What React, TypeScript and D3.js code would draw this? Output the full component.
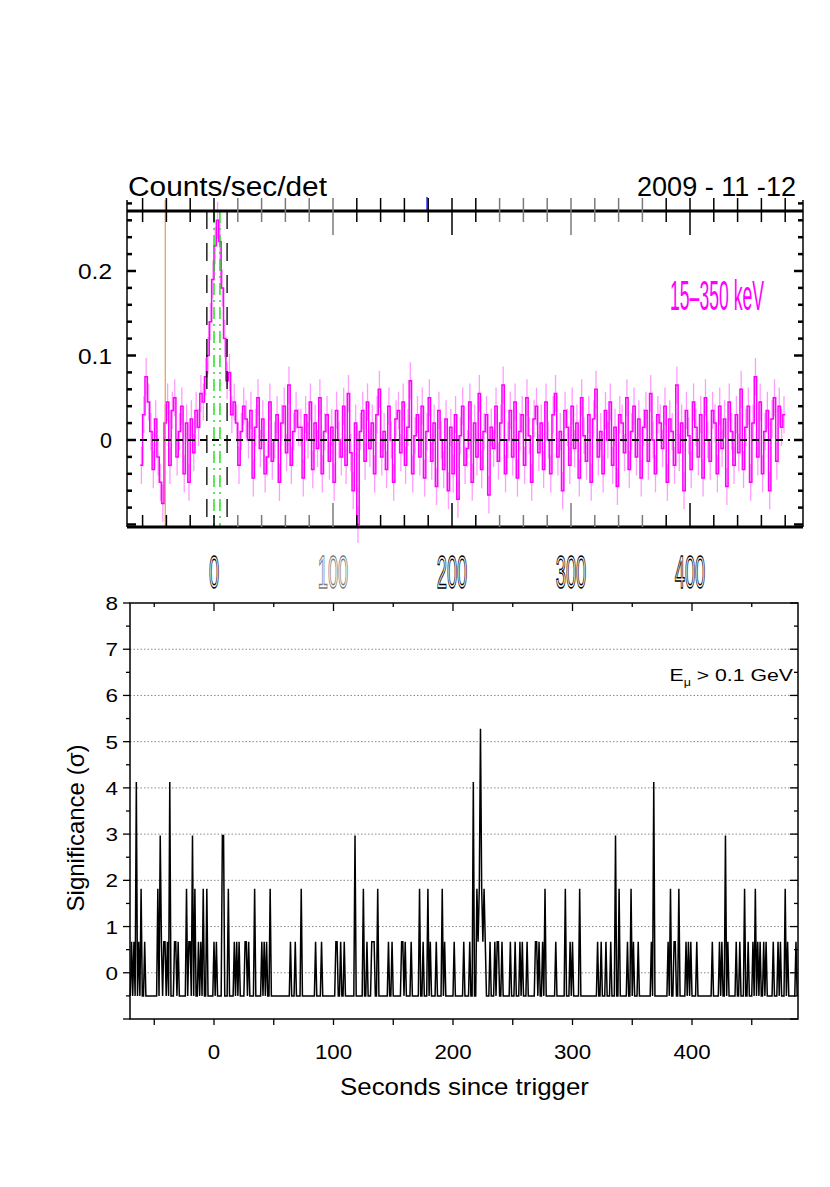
import React from "react";
import * as d3 from "d3";

// ---------- Top panel: BAT light curve (15-350 keV), 2 s bins ----------
const lcStart = -62;
const lcStep = 2;
const lcValues = [
  -0.03, 0.03, 0.075, 0.045, 0.01, -0.035, 0.025, -0.02, -0.05, -0.075,
  0.02, 0.045, -0.03, 0.035, 0.05, -0.02, 0.01, 0.04, -0.04, 0.02,
  -0.05, 0.025, -0.015, 0.035, 0.015, 0.055, 0.045, 0.075, 0.10, 0.14,
  0.19, 0.23, 0.26, 0.235, 0.18, 0.12, 0.07, 0.08, 0.03, 0.045,
  0.02, -0.03, 0.01, 0.04, 0.025, 0.0, 0.035, -0.045, 0.015, 0.05,
  -0.01, 0.025, -0.04, -0.02, 0.045, -0.025, 0.0, 0.03, -0.05, 0.02,
  0.04, -0.015, 0.065, -0.03, 0.01, 0.035, 0.015, 0.015, -0.045, 0.03,
  0.0, 0.045, -0.035, 0.02, -0.01, 0.05, -0.04, 0.01, 0.03, -0.025,
  0.015, -0.05, 0.035, 0.0, -0.02, 0.04, -0.03, 0.055, -0.015, -0.06,
  0.02, -0.1, 0.01, 0.035, -0.025, 0.045, -0.01, 0.02, -0.04, 0.03,
  0.06, -0.02, 0.01, -0.035, 0.04, 0.0, -0.05, 0.025, 0.035, -0.015,
  0.045, -0.03, 0.015, 0.07, -0.04, 0.005, 0.03, -0.02, 0.04, -0.045,
  0.01, 0.05, -0.025, 0.02, -0.055, 0.035, 0.0, -0.035, 0.025, -0.06,
  0.015, -0.04, 0.03, -0.07, 0.005, 0.04, -0.03, -0.01, 0.045, -0.05,
  0.02, -0.02, 0.055, -0.035, 0.01, 0.03, -0.065, 0.015, -0.01, 0.04,
  -0.025, 0.02, 0.065, -0.04, 0.0, 0.035, -0.02, 0.045, -0.045, 0.01,
  0.03, -0.03, 0.05, 0.005, -0.05, 0.025, 0.04, -0.015, 0.02, -0.035,
  0.045, 0.0, -0.04, 0.03, 0.055, -0.02, 0.01, -0.06, 0.035, 0.015,
  -0.03, 0.04, -0.01, 0.02, -0.045, 0.05, 0.005, -0.025, 0.03, -0.05,
  0.025, 0.06, -0.02, 0.01, -0.04, 0.035, 0.0, 0.045, -0.03, 0.015,
  -0.055, 0.03, 0.02, -0.015, 0.05, -0.035, 0.01, 0.04, -0.02, 0.025,
  -0.045, 0.015, 0.035, -0.025, 0.055, 0.0, -0.04, 0.03, 0.02, -0.01,
  0.04, -0.05, 0.025, 0.01, -0.03, 0.065, -0.015, 0.02, -0.06, 0.035,
  0.005, -0.035, 0.045, 0.015, -0.02, 0.03, -0.045, 0.05, 0.0, -0.025,
  0.035, 0.02, -0.04, 0.04, -0.01, 0.025, -0.055, 0.045, 0.01, -0.03,
  0.03, -0.015, 0.06, -0.035, 0.015, 0.04, -0.05, 0.02, 0.075, -0.02,
  0.045, -0.04, 0.01, 0.035, -0.06, 0.025, 0.05, -0.025, 0.04, 0.015, 0.03,
];
const lcError = 0.022;

const topXTickLabels = [0, 100, 200, 300, 400];
const topYTickLabels = [0, 0.1, 0.2];
const orangeLineTime = -41;
const blueMarkTime = 179;
const dashedBlackTimes = [-6, 11];
const greenDashDotTimes = [0, 5];

// ---------- Bottom panel: significance ----------
const sigBaseline = -0.5;
const sigFirst = -70;
const sigLast = 488;
const sigTimes = [
  -69, -67, -65, -63, -61, -58,
  -47, -45, -44, -42, -41, -39, -37, -33, -32, -30,
  -23, -21, -20, -18, -16, -13, -11, -9, -6,
  0, 2, 7, 8, 12, 17, 19, 21, 26, 27, 29, 34, 40, 42, 44, 47, 64, 68, 73,
  85, 90, 102, 103, 106, 109, 118, 125, 128, 132, 133, 134, 137, 146, 149, 157, 158, 160, 165,
  172, 175, 179, 181, 186, 191, 193, 201, 209,
  214, 217, 220, 221, 222, 223, 224, 225, 226, 227,
  231, 235, 237, 238, 241, 248, 252, 256, 258, 262, 269, 270, 272, 275, 277, 286, 294, 298, 300, 306,
  321, 324, 328, 332, 336, 339, 346, 349, 351, 355, 366, 368, 380, 382, 385, 386, 389, 395, 397, 399, 404,
  417, 423, 425, 428, 430, 437, 440, 444, 447, 451, 453, 455, 457, 460, 462, 468, 472, 474, 478, 480, 487,
];
const sigValues = [
  0.67, 0.67, 4.13, 0.67, 1.82, 0.67,
  1.82, 2.97, 0.67, 0.67, 0.67, 0.67, 4.13, 0.67, 0.67, 0.67,
  1.82, 0.67, 0.67, 2.97, 1.82, 0.67, 0.67, 1.82, 1.82,
  0.67, 0.67, 2.97, 2.97, 1.82, 0.67, 0.67, 0.67, 0.67, 0.67, 0.67, 1.82, 0.67, 0.67, 0.67, 1.82, 0.67, 0.67, 1.82,
  0.67, 0.67, 0.67, 0.67, 0.67, 0.67, 2.97, 1.82, 0.67, 0.67, 0.67, 0.67, 1.82, 0.67, 0.67, 0.67, 0.67, 0.67, 0.67,
  1.82, 0.67, 1.82, 0.67, 0.67, 1.82, 0.67, 0.67, 0.67,
  0.67, 4.13, 1.82, 0.67, 1.82, 5.28, 1.82, 0.67, 1.82, 0.67,
  0.67, 0.67, 0.67, 0.67, 0.67, 0.67, 0.67, 0.67, 0.67, 0.67, 0.67, 0.67, 0.67, 0.67, 1.82, 0.67, 1.82, 0.67, 0.67, 1.82,
  0.67, 0.67, 0.67, 0.67, 2.97, 1.82, 0.67, 1.82, 0.67, 0.67, 0.67, 4.13, 0.67, 1.82, 0.67, 0.67, 1.82, 0.67, 0.67, 0.67, 0.67,
  0.67, 0.67, 0.67, 2.97, 0.67, 0.67, 0.67, 1.82, 0.67, 0.67, 1.82, 0.67, 0.67, 0.67, 0.67, 0.67, 0.67, 0.67, 1.82, 0.67, 0.67,
];
const botXTickLabels = [0, 100, 200, 300, 400];
const botYTickLabels = [0, 1, 2, 3, 4, 5, 6, 7, 8];

const FONT = "'Liberation Sans', Arial, Helvetica, sans-serif";

export default function App() {
  // top panel geometry
  const tL = 127, tR = 803, tT = 200, tB = 527, tLine = 211;
  const xT = d3.scaleLinear().domain([0, 400]).range([214, 690]);
  const yT = d3.scaleLinear().domain([0, 0.2]).range([440, 271]);

  // bottom panel geometry
  const bL = 130, bR = 798, bT = 603, bB = 1019;
  const xB = d3.scaleLinear().domain([0, 400]).range([214, 692]);
  const yB = d3.scaleLinear().domain([-1, 8]).range([bB, bT]);

  // light curve (step histogram)
  const lcPts: [number, number][] = lcValues.map((v, i) => [lcStart + i * lcStep, v]);
  lcPts.push([lcStart + lcValues.length * lcStep, lcValues[lcValues.length - 1]]);
  const lcPath = d3
    .line<[number, number]>()
    .x((d) => xT(d[0]))
    .y((d) => yT(d[1]))
    .curve(d3.curveStepAfter)(lcPts) as string;

  // significance series
  const sigMap = new Map<number, number>();
  sigTimes.forEach((t, i) => sigMap.set(t, sigValues[i]));
  const sigPts: [number, number][] = d3
    .range(sigFirst, sigLast + 1)
    .map((t) => [t, sigMap.has(t) ? (sigMap.get(t) as number) : sigBaseline]);
  const sigPath = d3
    .line<[number, number]>()
    .x((d) => xB(d[0]))
    .y((d) => yB(d[1]))(sigPts) as string;

  const topYTicks = d3.range(-5, 15).map((i) => ({ v: i * 0.02, major: i % 5 === 0 }));
  const topXTicks = d3.range(-60, 481, 20);
  const isGray = (t: number) => (t >= 20 && t <= 100) || (t >= 240 && t <= 360);

  const botYTicks = d3.range(-2, 17).map((i) => ({ v: i / 2, major: i % 2 === 0 }));
  const botXTicks = d3.range(-50, 481, 50).map((t) => ({ t, major: t % 100 === 0 }));

  return (
    <svg
      width={830}
      height={1187}
      style={{ position: "absolute", left: 0, top: 0, background: "#fff" }}
      fontFamily={FONT}
    >
      <rect x={0} y={0} width={830} height={1187} fill="#fff" />

      {/* ================= TOP PANEL ================= */}
      <text x={128} y={196} fontSize={27} fill="#000" textLength={199} lengthAdjust="spacingAndGlyphs">
        Counts/sec/det
      </text>
      <text x={637} y={196} fontSize={27} fill="#000" textLength={159} lengthAdjust="spacingAndGlyphs">
        2009 - 11 -12
      </text>

      {/* error bars */}
      <g stroke="#ff9cff" strokeWidth={1.3}>
        {lcValues.map((v, i) => {
          const xc = xT(lcStart + i * lcStep + lcStep / 2);
          return <line key={i} x1={xc} x2={xc} y1={yT(v - lcError)} y2={yT(v + lcError)} />;
        })}
      </g>
      <path d={lcPath} fill="none" stroke="#ff00ff" strokeWidth={1.5} />

      {/* zero line */}
      <line x1={140} x2={790} y1={yT(0)} y2={yT(0)} stroke="#000" strokeWidth={2} strokeDasharray="7,5" />

      {/* vertical markers */}
      <line x1={xT(orangeLineTime)} x2={xT(orangeLineTime)} y1={tT} y2={tB} stroke="#d98a3a" strokeWidth={1} />
      <line x1={xT(blueMarkTime)} x2={xT(blueMarkTime)} y1={197} y2={tLine} stroke="#0000ff" strokeWidth={1.2} />
      {dashedBlackTimes.map((t) => (
        <line key={"db" + t} x1={xT(t)} x2={xT(t)} y1={tLine} y2={tB} stroke="#000" strokeWidth={1.3} strokeDasharray="18,14" />
      ))}
      {greenDashDotTimes.map((t) => (
        <line key={"g" + t} x1={xT(t)} x2={xT(t)} y1={tLine} y2={tB} stroke="#00dd00" strokeWidth={1.3} strokeDasharray="12,5,2,5" />
      ))}

      {/* frame */}
      <line x1={tL} x2={tL} y1={tT} y2={tB} stroke="#000" strokeWidth={1.5} />
      <line x1={tR} x2={tR} y1={tT} y2={tB} stroke="#000" strokeWidth={1.5} />
      <line x1={tL} x2={tR} y1={tLine} y2={tLine} stroke="#000" strokeWidth={3} />
      <line x1={tL} x2={tR} y1={tB} y2={tB} stroke="#000" strokeWidth={3} />

      {/* y ticks */}
      {topYTicks.map(({ v, major }, i) => (
        <g key={"ty" + i} stroke="#000" strokeWidth={2.5}>
          <line x1={tL} x2={tL + (major ? 9 : 5)} y1={yT(v)} y2={yT(v)} />
          <line x1={tR} x2={tR - (major ? 9 : 5)} y1={yT(v)} y2={yT(v)} />
        </g>
      ))}
      {/* x ticks */}
      {topXTicks.map((t) => {
        const major = t % 100 === 0;
        const c = isGray(t) ? "#7a7a7a" : "#000";
        return (
          <g key={"tx" + t} stroke={c} strokeWidth={1.5}>
            <line x1={xT(t)} x2={xT(t)} y1={198} y2={major && t !== 0 ? 235 : 222} />
            <line x1={xT(t)} x2={xT(t)} y1={tB} y2={major && t !== 0 ? 503 : 515} />
          </g>
        );
      })}

      {/* y tick labels */}
      {topYTickLabels.map((v) => {
        const s = v === 0 ? "0" : v.toFixed(1);
        return (
          <text
            key={"tyl" + v}
            x={112}
            y={yT(v) + 8}
            fontSize={22}
            textAnchor="end"
            fill="#000"
            textLength={s.length === 1 ? 12 : 34}
            lengthAdjust="spacingAndGlyphs"
          >
            {s}
          </text>
        );
      })}
      {/* x tick labels (condensed outline digits) */}
      <g opacity={0.99}>
        {topXTickLabels.map((v) => (
          <g key={"txl" + v} transform={`translate(${xT(v)},588) scale(0.4,1)`}>
            <text
              x={0}
              y={0}
              fontSize={46}
              textAnchor="middle"
              fill="#fff"
              stroke={v === 100 ? "#777" : "#000"}
              strokeWidth={1.5}
            >
              {String(v)}
            </text>
          </g>
        ))}
      </g>

      <g transform="translate(670,310) scale(0.41,1)">
        <text x={0} y={0} fontSize={43} fill="#ff00ff">15–350 keV</text>
      </g>

      {/* ================= BOTTOM PANEL ================= */}
      {/* grid */}
      {d3.range(0, 8).map((v) => (
        <line key={"gr" + v} x1={bL} x2={bR} y1={yB(v)} y2={yB(v)} stroke="#888" strokeWidth={1} strokeDasharray="1.5,2" />
      ))}

      <path d={sigPath} fill="none" stroke="#000" strokeWidth={1.5} strokeLinejoin="miter" />

      <rect x={bL} y={bT} width={bR - bL} height={bB - bT} fill="none" stroke="#000" strokeWidth={1.5} />

      {/* y ticks */}
      {botYTicks.map(({ v, major }, i) => (
        <g key={"by" + i} stroke="#000" strokeWidth={1.3}>
          <line x1={bL} x2={bL - (major ? 7 : 4)} y1={yB(v)} y2={yB(v)} />
          <line x1={bR} x2={bR - (major ? 8 : 4)} y1={yB(v)} y2={yB(v)} />
        </g>
      ))}
      {/* x ticks */}
      {botXTicks.map(({ t, major }) => (
        <g key={"bx" + t} stroke="#000" strokeWidth={1.3}>
          <line x1={xB(t)} x2={xB(t)} y1={bT} y2={bT + (major ? 8 : 4)} />
          <line x1={xB(t)} x2={xB(t)} y1={bB} y2={bB + 6} />
        </g>
      ))}

      {botYTickLabels.map((v) => (
        <text
          key={"byl" + v}
          x={118}
          y={yB(v) + 7}
          fontSize={19}
          textAnchor="end"
          fill="#000"
          textLength={12.5}
          lengthAdjust="spacingAndGlyphs"
        >
          {v}
        </text>
      ))}
      {botXTickLabels.map((v) => {
        const s = String(v);
        return (
          <text
            key={"bxl" + v}
            x={xB(v)}
            y={1059}
            fontSize={20}
            textAnchor="middle"
            fill="#000"
            textLength={12.4 * s.length}
            lengthAdjust="spacingAndGlyphs"
          >
            {s}
          </text>
        );
      })}

      <text
        x={340}
        y={1095}
        fontSize={24}
        fill="#000"
        textLength={249}
        lengthAdjust="spacingAndGlyphs"
      >
        Seconds since trigger
      </text>
      <text
        transform="translate(84,828) rotate(-90)"
        fontSize={24}
        textAnchor="middle"
        fill="#000"
      >
        Significance (σ)
      </text>

      <g transform="translate(793,681) scale(1.25,1)">
        <text x={0} y={0} fontSize={17} textAnchor="end" fill="#000">
          E<tspan fontSize={10} dy={5}>μ</tspan>
          <tspan dy={-5}> &gt; 0.1 GeV</tspan>
        </text>
      </g>
    </svg>
  );
}
